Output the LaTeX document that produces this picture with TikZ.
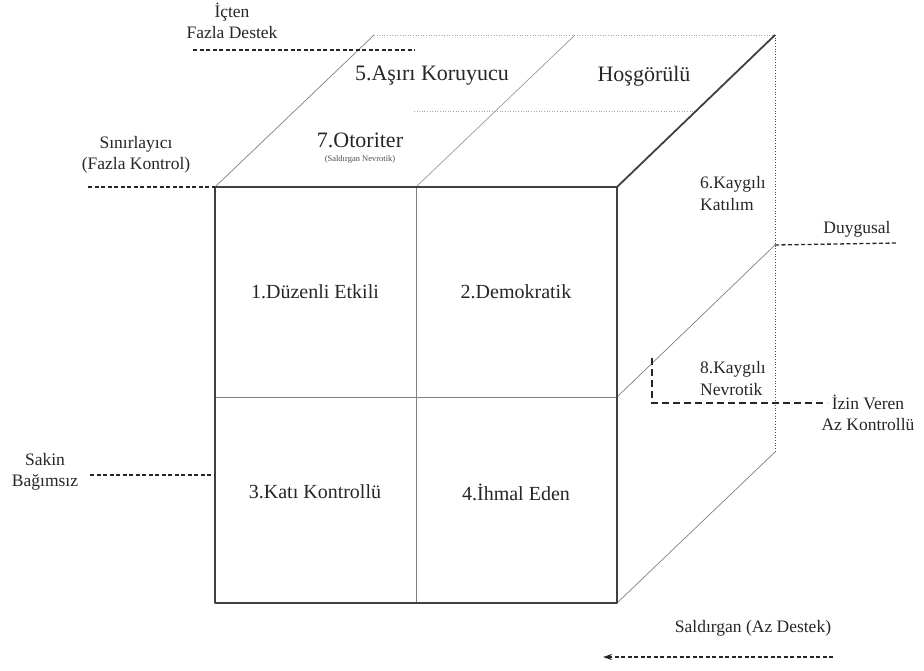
\documentclass[tikz,border=0pt]{standalone}
\usepackage{fontspec}
\setmainfont{Liberation Serif}
\usetikzlibrary{arrows.meta}
\begin{document}
\begin{tikzpicture}[x=1pt,y=-1pt,
  lbl/.style={font=\fontsize{17.5}{21.5}\selectfont, text=black!85, inner sep=0pt, align=center},
  lbll/.style={font=\fontsize{17.5}{22}\selectfont, text=black!85, inner sep=0pt, align=left, anchor=west},
  big/.style={font=\fontsize{20}{24}\selectfont, text=black!85, inner sep=0pt},
  topbig/.style={font=\fontsize{22}{26}\selectfont, text=black!85, inner sep=0pt},
  tinylbl/.style={font=\fontsize{8.5}{10}\selectfont, text=black!70, inner sep=0pt},
  frontedge/.style={draw=black!75, line width=1.8pt, line join=round},
  midedge/.style={draw=black!50, line width=0.9pt},
  thinedge/.style={draw=black!50, line width=0.7pt},
  faint/.style={draw=black!35, line width=0.6pt, dotted},
  guide/.style={draw=black!85, line width=1.3pt, dash pattern=on 4pt off 2.5pt},
  bracket/.style={draw=black!85, line width=1.6pt, dash pattern=on 7pt off 4pt},
  ]
\useasboundingbox (0,0) rectangle (924,670);
% cube corners
\coordinate (A) at (215,187);
\coordinate (B) at (617,187);
\coordinate (C) at (617,603);
\coordinate (D) at (215,603);
\coordinate (Mt) at (416,187);
\coordinate (Mb) at (416,603);
\coordinate (Ml) at (215,397);
\coordinate (Mr) at (617,397);
\coordinate (E) at (374,35);
\coordinate (F) at (775,35);
\coordinate (G) at (775,452);
\coordinate (T1) at (575,35);
\coordinate (R2) at (775,245);
\coordinate (h1) at (414,111);
\coordinate (h2) at (696,111);
% guide endpoints
\coordinate (ic1) at (193,50);
\coordinate (ic2) at (415,50);
\coordinate (sn1) at (88,187);
\coordinate (sk1) at (90,475);
\coordinate (sk2) at (215,475);
\coordinate (dy2) at (897,243);
\coordinate (br1) at (652,358);
\coordinate (br2) at (652,403);
\coordinate (br3) at (827,403);
\coordinate (ar1) at (833,657);
\coordinate (ar2) at (603,657);

% back / hidden-ish edges
\draw[faint] (E) -- (F);
\draw[thinedge, dotted, draw=black!70] (F) -- (G);
\draw[faint] (h1) -- (h2);
\draw[thinedge, draw=black!40] (Mt) -- (T1);
\draw[thinedge] (A) -- (E);
\draw[thinedge] (C) -- (G);
\draw[thinedge] (Mr) -- (R2);
% front face
\draw[midedge] (Mt) -- (Mb);
\draw[midedge] (Ml) -- (Mr);
\draw[frontedge] (A) -- (B) -- (C) -- (D) -- cycle;
\draw[frontedge] (B) -- (F);

% guides
\draw[guide] (ic1) -- (ic2);
\draw[guide] (sn1) -- (A);
\draw[guide] (sk1) -- (sk2);
\draw[guide] (R2) -- (dy2);
\draw[bracket] (br1) -- (br2) -- (br3);
\draw[guide, -{Stealth[length=9pt,width=6pt]}] (ar1) -- (ar2);

% front labels
\node[big] (n1) at (315,292) {1.Düzenli Etkili};
\node[big] (n2) at (516,292) {2.Demokratik};
\node[big] (n3) at (315,492) {3.Katı Kontrollü};
\node[big] (n4) at (516,492) {4.İhmal Eden};
% top labels
\node[topbig] (n5) at (432,76) {5.Aşırı Koruyucu};
\node[topbig] (nh) at (644,76) {Hoşgörülü};
\node[topbig] (n7) at (360,140) {7.Otoriter};
\node[tinylbl] (n7s) at (360,159) {(Saldırgan Nevrotik)};
% right face labels
\node[lbll] (n6) at (700,194) {6.Kaygılı\\Katılım};
\node[lbll] (n8) at (700,379) {8.Kaygılı\\Nevrotik};
% outer labels
\node[lbl] (lic) at (232,21) {İçten\\Fazla Destek};
\node[lbl] (lsn) at (136,155) {Sınırlayıcı\\(Fazla Kontrol)};
\node[lbl] (lsk) at (45,472) {Sakin\\Bağımsız};
\node[lbl] (ldy) at (857,229) {Duygusal};
\node[lbl] (liz) at (868,413) {İzin Veren\\Az Kontrollü};
\node[lbl] (lsd) at (753,628) {Saldırgan (Az Destek)};
\end{tikzpicture}
\end{document}
